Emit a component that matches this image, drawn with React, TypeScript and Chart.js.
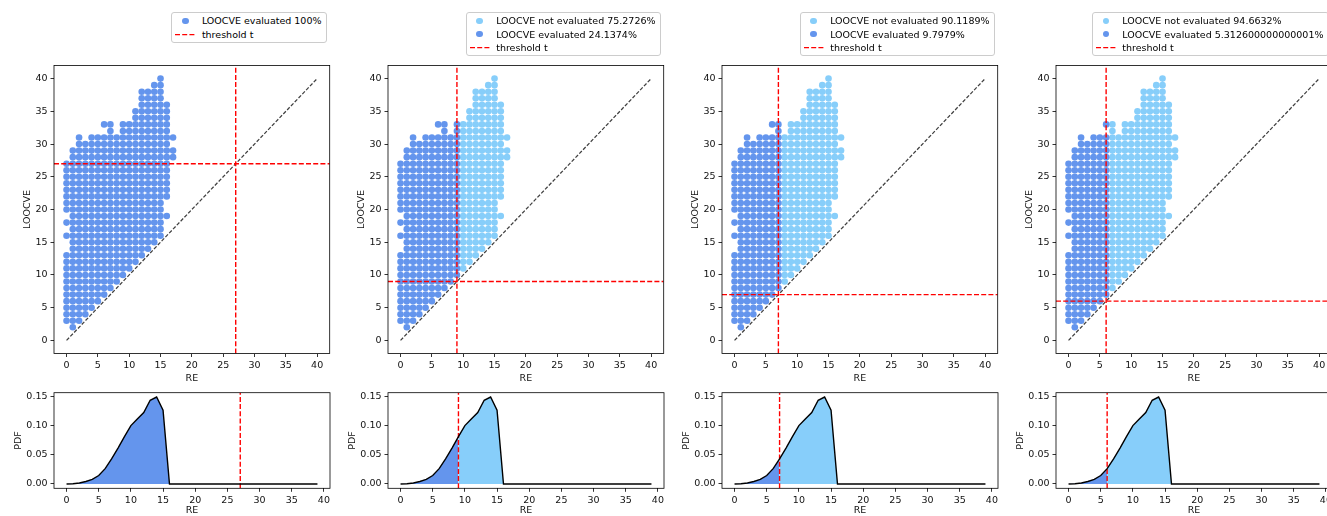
import React, { useEffect, useRef } from "react";
import { Chart, registerables } from "chart.js";

Chart.register(...registerables);

const FONT = "'DejaVu Sans', 'Liberation Sans', sans-serif";
Chart.defaults.font.family = FONT;
Chart.defaults.font.size = 9.5;
Chart.defaults.color = "#111";

const DARK = "#6495ED";
const LIGHT = "#87CEFA";
const RED = "#ff0000";

// ---------- data ----------
const thresholds = [27, 9, 7, 6];
const evaluatedPct = ["100", "24.1374", "9.7979", "5.312600000000001"];
const notEvaluatedPct = ["", "75.2726", "90.1189", "94.6632"];

// scatter points, grouped in vertical runs: [RE, LOOCVE from, LOOCVE to]
const pointRuns: [number, number, number][] = [
  [0, 3, 13], [0, 16, 16], [0, 18, 18], [0, 20, 27],
  [1, 2, 29],
  [2, 3, 31],
  [3, 4, 30],
  [4, 5, 31],
  [5, 6, 31],
  [6, 7, 31], [6, 33, 33],
  [7, 8, 33],
  [8, 9, 31],
  [9, 10, 33],
  [10, 11, 33],
  [11, 12, 35],
  [12, 13, 38],
  [13, 14, 38],
  [14, 15, 39],
  [15, 16, 40],
  [16, 19, 19], [16, 22, 36],
  [17, 28, 29], [17, 31, 31],
];

const diagRE = [0, 40];
const diagLOOCVE = [0, 40];

const pdfRE = [
  0, 1, 2, 3, 4, 5, 6, 7, 8, 9, 10, 11, 12, 13, 14, 15, 16, 17, 18, 19,
  20, 21, 22, 23, 24, 25, 26, 27, 28, 29, 30, 31, 32, 33, 34, 35, 36, 37, 38, 39,
];
const pdfValues = [
  0, 0.0004, 0.0016, 0.0042, 0.0078, 0.0145, 0.0262, 0.0430, 0.0615, 0.0812,
  0.1, 0.1112, 0.1225, 0.1435, 0.149, 0.1265, 0, 0, 0, 0,
  0, 0, 0, 0, 0, 0, 0, 0, 0, 0, 0, 0, 0, 0, 0, 0, 0, 0, 0, 0,
];

const axisTicks = [0, 5, 10, 15, 20, 25, 30, 35, 40];
const pdfTicks = [0, 0.05, 0.1, 0.15];

// ---------- layout ----------
const FRAME_LEFTS = [54, 388, 722, 1056];
const FRAME_W = 276;
const CANVAS_OFF = 54;
const CANVAS_W = 333;

const SC_TOP = 55;
const SC_H = 329;
const SC_AREA_TOP = 65.5;
const SC_AREA_BOTTOM = 353.5;

const PDF_TOP = 382;
const PDF_H = 134;
const PDF_AREA_TOP = 392.7;
const PDF_AREA_BOTTOM = 488.3;

const points = pointRuns.flatMap(([x, a, b]) => {
  const out: { x: number; y: number }[] = [];
  for (let y = a; y <= b; y++) out.push({ x, y });
  return out;
});

const framePlugin = {
  id: "frame",
  afterDatasetsDraw(chart: any) {
    const { ctx, chartArea } = chart;
    const { left, top, right, bottom } = chartArea;
    ctx.save();
    ctx.strokeStyle = "#000";
    ctx.lineWidth = 0.8;
    ctx.strokeRect(left, top, right - left, bottom - top);
    ctx.restore();
  },
};

const tickGrid = {
  display: true,
  drawOnChartArea: false,
  drawTicks: true,
  tickLength: 3.5,
  lineWidth: 0.8,
  color: "#000",
};

function linScale(
  min: number,
  max: number,
  tickVals: number[],
  fmt: (v: any) => string,
  fitKey: "width" | "height",
  fitVal: number,
  title: string
) {
  return {
    type: "linear",
    min,
    max,
    afterBuildTicks: (s: any) => {
      s.ticks = tickVals.map((v) => ({ value: v }));
    },
    afterFit: (s: any) => {
      s[fitKey] = fitVal;
    },
    grid: tickGrid,
    border: { display: false },
    ticks: {
      padding: 3,
      color: "#111",
      autoSkip: false,
      maxRotation: 0,
      callback: fmt,
      font: { size: 9.5, family: FONT },
    },
    title: {
      display: true,
      text: title,
      padding: 0,
      color: "#111",
      font: { size: 9.5, family: FONT },
    },
  };
}

function makeScatter(canvas: HTMLCanvasElement, t: number) {
  const evaluated = points.filter((p) => p.x <= t);
  const notEvaluated = points.filter((p) => p.x > t);
  const lineDs = (data: any[], color: string, width: number, dash: number[]) => ({
    type: "line",
    data,
    borderColor: color,
    borderWidth: width,
    borderDash: dash,
    pointRadius: 0,
    fill: false,
    showLine: true,
  });
  return new Chart(canvas, {
    type: "scatter",
    data: {
      datasets: [
        lineDs([{ x: t, y: -2 }, { x: t, y: 42 }], RED, 1.4, [5, 2.2]) as any,
        lineDs([{ x: -2, y: t }, { x: 42, y: t }], RED, 1.4, [5, 2.2]) as any,
        lineDs(
          diagRE.map((x, i) => ({ x, y: diagLOOCVE[i] })),
          "rgba(0,0,0,0.75)",
          1.25,
          [3.7, 1.8]
        ) as any,
        {
          data: evaluated,
          backgroundColor: DARK,
          pointRadius: 3.3,
          pointBorderWidth: 0,
          pointHoverRadius: 3.3,
        },
        {
          data: notEvaluated,
          backgroundColor: LIGHT,
          pointRadius: 3.3,
          pointBorderWidth: 0,
          pointHoverRadius: 3.3,
        },
      ],
    },
    options: {
      responsive: false,
      animation: false,
      events: [],
      layout: {
        padding: {
          left: 22.3,
          right: CANVAS_W - CANVAS_OFF - FRAME_W,
          top: SC_AREA_TOP - SC_TOP,
          bottom: 0,
        },
      },
      plugins: { legend: { display: false }, tooltip: { enabled: false } },
      scales: {
        x: linScale(-2, 42, axisTicks, (v) => String(v), "height", SC_TOP + SC_H - SC_AREA_BOTTOM, "RE") as any,
        y: linScale(-2, 42, axisTicks, (v) => String(v), "width", 31.7, "LOOCVE") as any,
      },
    },
    plugins: [framePlugin],
  } as any);
}

function makePdf(canvas: HTMLCanvasElement, t: number) {
  const all = pdfRE.map((x, i) => ({ x, y: pdfValues[i] }));
  const evalPart = all.filter((p) => p.x <= t);
  const restPart = all.filter((p) => p.x >= t);
  const yMin = -0.00745;
  const yMax = 0.15645;
  return new Chart(canvas, {
    type: "line",
    data: {
      datasets: [
        {
          data: all,
          borderColor: "#000",
          borderWidth: 1.4,
          pointRadius: 0,
          fill: false,
          tension: 0,
        },
        {
          data: [{ x: t, y: yMin }, { x: t, y: yMax }],
          borderColor: RED,
          borderWidth: 1.4,
          borderDash: [5, 2.2],
          pointRadius: 0,
          fill: false,
        },
        {
          data: evalPart,
          borderColor: "rgba(0,0,0,0)",
          borderWidth: 0,
          pointRadius: 0,
          backgroundColor: DARK,
          fill: "origin",
          tension: 0,
        },
        {
          data: restPart,
          borderColor: "rgba(0,0,0,0)",
          borderWidth: 0,
          pointRadius: 0,
          backgroundColor: LIGHT,
          fill: "origin",
          tension: 0,
        },
      ],
    },
    options: {
      responsive: false,
      animation: false,
      events: [],
      layout: {
        padding: {
          left: 12.6,
          right: CANVAS_W - CANVAS_OFF - FRAME_W,
          top: PDF_AREA_TOP - PDF_TOP,
          bottom: 0,
        },
      },
      plugins: { legend: { display: false }, tooltip: { enabled: false } },
      scales: {
        x: linScale(-1.95, 40.95, axisTicks, (v) => String(v), "height", PDF_TOP + PDF_H - PDF_AREA_BOTTOM, "RE") as any,
        y: linScale(yMin, yMax, pdfTicks, (v) => Number(v).toFixed(2), "width", 41.4, "PDF") as any,
      },
    },
    plugins: [framePlugin],
  } as any);
}

function Legend({ index }: { index: number }) {
  const right = 1327 - (FRAME_LEFTS[index] + FRAME_W - 3.5);
  const rows: { kind: "dot" | "dash"; color?: string; text: string }[] = [];
  if (notEvaluatedPct[index]) {
    rows.push({ kind: "dot", color: LIGHT, text: `LOOCVE not evaluated ${notEvaluatedPct[index]}%` });
  }
  rows.push({ kind: "dot", color: DARK, text: `LOOCVE evaluated ${evaluatedPct[index]}%` });
  rows.push({ kind: "dash", text: "threshold t" });
  return (
    <div
      style={{
        position: "absolute",
        top: 12.3,
        right,
        border: "1px solid #cccccc",
        borderRadius: 3,
        background: "rgba(255,255,255,0.8)",
        padding: "1px 4px 1px 3px",
        fontSize: 9.5,
        fontFamily: FONT,
        color: "#000",
        whiteSpace: "nowrap",
      }}
    >
      {rows.map((r, k) => (
        <div key={k} style={{ display: "flex", alignItems: "center", height: 13.3 }}>
          <div style={{ width: 20, height: 13.3, position: "relative", marginRight: 6.5, flex: "none" }}>
            {r.kind === "dot" ? (
              <div
                style={{
                  position: "absolute",
                  left: 6.75,
                  top: 3.4,
                  width: 6.5,
                  height: 6.5,
                  borderRadius: "50%",
                  background: r.color,
                }}
              />
            ) : (
              <svg width={20} height={13.3} style={{ display: "block" }}>
                <line x1={0} x2={20} y1={6.65} y2={6.65} stroke={RED} strokeWidth={1.4} strokeDasharray="5 2.2" />
              </svg>
            )}
          </div>
          <span style={{ lineHeight: "13.3px" }}>{r.text}</span>
        </div>
      ))}
    </div>
  );
}

function Panel({ index }: { index: number }) {
  const scRef = useRef<HTMLCanvasElement | null>(null);
  const pdfRef = useRef<HTMLCanvasElement | null>(null);
  const t = thresholds[index];
  useEffect(() => {
    const c1 = makeScatter(scRef.current as HTMLCanvasElement, t);
    const c2 = makePdf(pdfRef.current as HTMLCanvasElement, t);
    return () => {
      c1.destroy();
      c2.destroy();
    };
  }, [t]);
  const left = FRAME_LEFTS[index] - CANVAS_OFF;
  return (
    <>
      <canvas
        ref={scRef}
        width={CANVAS_W}
        height={SC_H}
        style={{ position: "absolute", left, top: SC_TOP, width: CANVAS_W, height: SC_H, display: "block" }}
      />
      <canvas
        ref={pdfRef}
        width={CANVAS_W}
        height={PDF_H}
        style={{ position: "absolute", left, top: PDF_TOP, width: CANVAS_W, height: PDF_H, display: "block" }}
      />
      <Legend index={index} />
    </>
  );
}

export default function App() {
  return (
    <div
      style={{
        position: "absolute",
        left: 0,
        top: 0,
        width: 1327,
        height: 516,
        overflow: "hidden",
        background: "#fff",
      }}
    >
      {thresholds.map((_, i) => (
        <Panel key={i} index={i} />
      ))}
    </div>
  );
}
